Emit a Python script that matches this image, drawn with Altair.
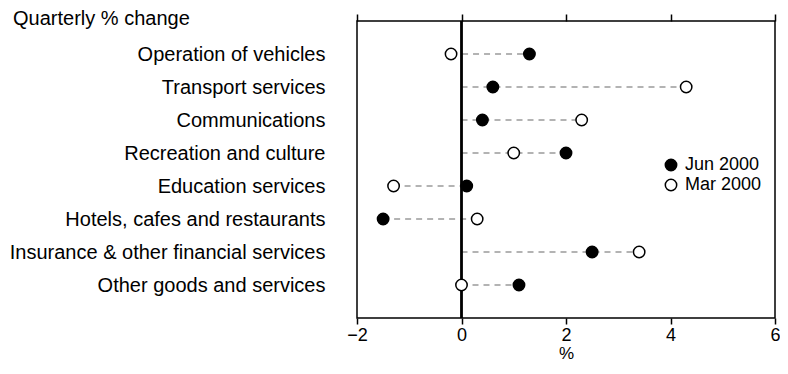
import altair as alt
import pandas as pd

categories = [
    "Operation of vehicles",
    "Transport services",
    "Communications",
    "Recreation and culture",
    "Education services",
    "Hotels, cafes and restaurants",
    "Insurance & other financial services",
    "Other goods and services",
]
jun_2000 = [1.3, 0.6, 0.4, 2.0, 0.1, -1.5, 2.5, 1.1]
mar_2000 = [-0.2, 4.3, 2.3, 1.0, -1.3, 0.3, 3.4, 0.0]
series_names = ["Jun 2000", "Mar 2000"]
x_ticks = [-2, 0, 2, 4, 6]
x_domain = [-2, 6]
title_text = ["Quarterly % change"]
x_title = "%"

df = pd.DataFrame({"category": categories, "Jun 2000": jun_2000, "Mar 2000": mar_2000})

FONT = "Liberation Sans"
xscale = alt.Scale(domain=x_domain, nice=False, zero=False)
yenc = alt.Y(
    "category:N",
    sort=categories,
    scale=alt.Scale(type="point", padding=1),
    axis=alt.Axis(
        title=None, ticks=False, domain=False, labelFontSize=20,
        labelPadding=32, labelColor="black", labelFont=FONT, labelLimit=500,
    ),
)

base = alt.Chart(df)

leaders = base.transform_calculate(
    lo="min(0, datum['Jun 2000'], datum['Mar 2000'])",
    hi="max(0, datum['Jun 2000'], datum['Mar 2000'])",
).mark_rule(color="#9a9a9a", strokeDash=[6, 5], strokeWidth=1.5).encode(
    x=alt.X(
        "lo:Q", scale=xscale,
        axis=alt.Axis(
            orient="bottom", values=x_ticks, domain=False, grid=False,
            tickSize=6, tickColor="black", tickWidth=1.5,
            labelFontSize=18, labelColor="black", labelFont=FONT,
            labelPadding=2, labelFlush=False, labelOverlap=False,
            title=x_title, titleFontSize=17, titleFontWeight="normal",
            titleColor="black", titleFont=FONT, titlePadding=1,
        ),
    ),
    x2="hi:Q",
    y=yenc,
)

zero = base.transform_calculate(zero="0").mark_rule(color="black", strokeWidth=1.5).encode(
    x=alt.X(
        "zero:Q", scale=xscale,
        axis=alt.Axis(
            orient="top", values=x_ticks, labels=False, domain=False, grid=False,
            tickSize=7, tickColor="black", tickWidth=1.5, title=None,
        ),
    ),
)

points = base.transform_fold(series_names, as_=["series", "value"]).mark_point(
    shape="circle", filled=True, size=130, stroke="black", strokeWidth=1.5, opacity=1
).encode(
    x=alt.X("value:Q", scale=xscale, axis=None),
    y=yenc,
    fill=alt.Fill(
        "series:N",
        scale=alt.Scale(domain=series_names, range=["black", "white"]),
        legend=alt.Legend(
            title=None, orient="none", legendX=305, legendY=135, padding=0,
            labelFontSize=18, labelFont=FONT, labelColor="black", labelOffset=5,
            symbolType="circle", symbolSize=130, symbolStrokeColor="black",
            symbolStrokeWidth=1.5, symbolOpacity=1, rowPadding=2,
        ),
    ),
)

heading = alt.Chart(pd.DataFrame({"t": title_text})).mark_text(
    align="left", baseline="alphabetic", fontSize=20, font=FONT, color="black"
).encode(text="t:N", x=alt.value(-344), y=alt.value(4))

chart = alt.layer(leaders, zero, points, heading).resolve_axis(x="independent").properties(
    width=418,
    height=297,
    padding={"left": 349, "top": 13, "right": 5, "bottom": 45},
    autosize=alt.AutoSizeParams(type="none"),
).configure(background="white").configure_view(stroke="black", strokeWidth=1.5)

chart.save("out.html", embed_options={"renderer": "svg", "actions": False})
